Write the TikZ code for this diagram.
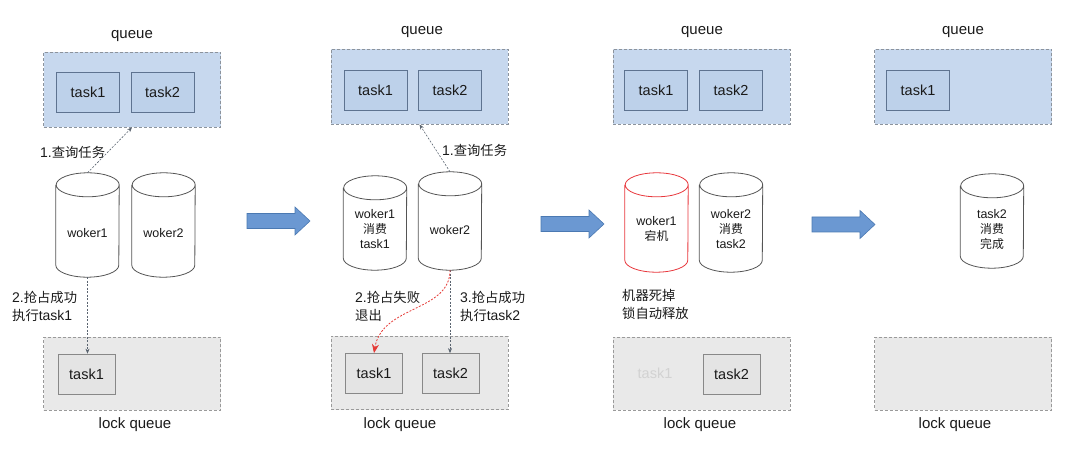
\documentclass[tikz,border=0pt]{standalone}
\usepackage{fontspec}
\setmainfont{Liberation Sans}
\newfontfamily\cjk[Scale=0.95]{Noto Sans CJK SC}
\usetikzlibrary{arrows.meta}
\definecolor{qfill}{HTML}{C7D8EE}
\definecolor{qborder}{HTML}{8C939C}
\definecolor{tfill}{HTML}{BDD1EA}
\definecolor{tborder}{HTML}{5E7390}
\definecolor{lfill}{HTML}{E9E9E9}
\definecolor{lborder}{HTML}{9A9A9A}
\definecolor{ltfill}{HTML}{E4E4E4}
\definecolor{ltborder}{HTML}{888888}
\definecolor{afill}{HTML}{6B98D2}
\definecolor{aborder}{HTML}{4B79B2}
\definecolor{txt}{HTML}{1A1A1A}
\definecolor{cylgray}{HTML}{555555}
\definecolor{cylred}{HTML}{E8383D}
\definecolor{conngray}{HTML}{5A6470}
\definecolor{connred}{HTML}{E53935}
\definecolor{faded}{HTML}{D2D2D2}
\newcommand\drawcyl[2]{%
  \path[draw=#2, line width=0.8pt, fill=white]
    ([yshift=-12pt]#1.north west) -- ([yshift=12pt]#1.south west)
    arc[start angle=180, end angle=360, x radius=31.5pt, y radius=12pt]
    -- ([yshift=-12pt]#1.north east)
    arc[start angle=0, end angle=180, x radius=31.5pt, y radius=12pt]
    arc[start angle=180, end angle=360, x radius=31.5pt, y radius=12pt];}
\tikzset{
  x=1pt, y=1pt,
  every node/.style={text=txt, inner sep=0pt},
  qbox/.style={draw=qborder, line width=0.8pt, dash pattern=on 3pt off 2pt, fill=qfill, minimum width=177pt, minimum height=75pt},
  lbox/.style={draw=lborder, line width=0.8pt, dash pattern=on 3pt off 2pt, fill=lfill, minimum width=177pt, minimum height=73pt},
  tbox/.style={draw=tborder, line width=0.7pt, fill=tfill, minimum width=63pt, minimum height=40pt, font=\fontsize{14.5}{17}\selectfont},
  ltbox/.style={draw=ltborder, line width=0.7pt, fill=ltfill, minimum width=57pt, minimum height=40pt, font=\fontsize{14.5}{17}\selectfont},
  title/.style={font=\fontsize{15}{18}\selectfont},
  cylbox/.style={minimum width=63pt, minimum height=#1},
  cyltext/.style={align=center, font=\fontsize{12.5}{15}\selectfont},
  steplabel/.style={align=left, anchor=west, font=\fontsize{14}{18}\selectfont},
  conn/.style={draw=conngray, line width=0.6pt, dash pattern=on 2pt off 1.5pt, -{Stealth[length=5pt,width=4pt]}},
  connr/.style={draw=connred, line width=0.8pt, dash pattern=on 2pt off 1.5pt, -{Stealth[length=9pt,width=7pt]}},
  bigarr/.pic={\path[fill=afill, draw=aborder, line width=0.6pt] (0,7.5) -- (48,7.5) -- (48,14) -- (63,0) -- (48,-14) -- (48,-7.5) -- (0,-7.5) -- cycle;}
}
\begin{document}
\begin{tikzpicture}
\useasboundingbox (0,0) rectangle (1080,-449);

% ---------- Panel 1 ----------
\node[title] (qt1) at (132,-36) {queue};
\node[qbox] (q1) at (132,-89.5) {};
\node[tbox] (qt11) at (88,-92.5) {task1};
\node[tbox] (qt12) at (162.5,-92.5) {task2};
\node[cylbox=104pt] (w1a) at (87.5,-225) {};
\drawcyl{w1a}{cylgray}
\node[cyltext] (w1at) at (87.5,-233) {woker1};
\node[cylbox=104pt] (w1b) at (163.5,-225) {};
\drawcyl{w1b}{cylgray}
\node[cyltext] (w1bt) at (163.5,-233) {woker2};
\node[lbox] (lq1) at (132,-373.5) {};
\node[ltbox] (lt11) at (86.5,-374) {task1};
\node[title] (lqt1) at (135,-425) {lock queue};
\draw[conn] (w1a.north) -- (q1.south);
\node[steplabel] (s11) at (40,-152) {1.{\cjk 查询任务}};
\draw[conn] (w1a.south) -- (w1a.south |- lt11.north);
\node[steplabel] (s12) at (12,-306) {2.{\cjk 抢占成功}\\{\cjk 执行}task1};

\pic (ar1) at (247,-221) {bigarr};

% ---------- Panel 2 ----------
\node[title] (qt2) at (422,-32) {queue};
\node[qbox] (q2) at (419.5,-86.5) {};
\node[tbox] (qt21) at (375.5,-90) {task1};
\node[tbox] (qt22) at (450,-90) {task2};
\node[cylbox=94pt] (w2a) at (375,-223) {};
\drawcyl{w2a}{cylgray}
\node[cyltext] (w2at) at (375,-229.5) {woker1\\{\cjk 消费}\\task1};
\node[cylbox=98pt] (w2b) at (450,-221) {};
\drawcyl{w2b}{cylgray}
\node[cyltext] (w2bt) at (450,-230) {woker2};
\node[lbox] (lq2) at (419.5,-373) {};
\node[ltbox] (lt21) at (374,-373.5) {task1};
\node[ltbox] (lt22) at (450.5,-373.5) {task2};
\node[title] (lqt2) at (400,-425) {lock queue};
\draw[conn] (w2b.north) -- (q2.south);
\node[steplabel] (s21) at (442,-150) {1.{\cjk 查询任务}};
\draw[conn] (w2b.south) -- (w2b.south |- lt22.north);
\draw[connr] (w2b.south) .. controls (450,-312) and (382,-305) .. (lt21.north);
\node[steplabel] (s22) at (355,-306) {2.{\cjk 抢占失败}\\{\cjk 退出}};
\node[steplabel] (s23) at (460,-306) {3.{\cjk 抢占成功}\\{\cjk 执行}task2};

\pic (ar2) at (541,-224) {bigarr};

% ---------- Panel 3 ----------
\node[title] (qt3) at (702,-32) {queue};
\node[qbox] (q3) at (701.5,-86.5) {};
\node[tbox] (qt31) at (656,-90) {task1};
\node[tbox] (qt32) at (731,-90) {task2};
\node[cylbox=99pt] (w3a) at (656.5,-222.5) {};
\drawcyl{w3a}{cylred}
\node[cyltext] (w3at) at (656.5,-229) {woker1\\{\cjk 宕机}};
\node[cylbox=99pt] (w3b) at (731,-222.5) {};
\drawcyl{w3b}{cylgray}
\node[cyltext] (w3bt) at (731,-229) {woker2\\{\cjk 消费}\\task2};
\node[steplabel] (s31) at (622,-304) {{\cjk 机器死掉}\\{\cjk 锁自动释放}};
\node[lbox] (lq3) at (701.5,-373.5) {};
\node[font=\fontsize{14.5}{17}\selectfont, text=faded] (lt31) at (655,-373) {task1};
\node[ltbox] (lt32) at (731.5,-374) {task2};
\node[title] (lqt3) at (700,-425) {lock queue};

\pic (ar3) at (812,-224.5) {bigarr};

% ---------- Panel 4 ----------
\node[title] (qt4) at (963,-32) {queue};
\node[qbox] (q4) at (963,-86.5) {};
\node[tbox] (qt41) at (918,-90) {task1};
\node[cylbox=94pt] (w4) at (992,-221) {};
\drawcyl{w4}{cylgray}
\node[cyltext] (w4t) at (992,-229) {task2\\{\cjk 消费}\\{\cjk 完成}};
\node[lbox] (lq4) at (963,-373.5) {};
\node[title] (lqt4) at (955,-425) {lock queue};
\end{tikzpicture}
\end{document}
